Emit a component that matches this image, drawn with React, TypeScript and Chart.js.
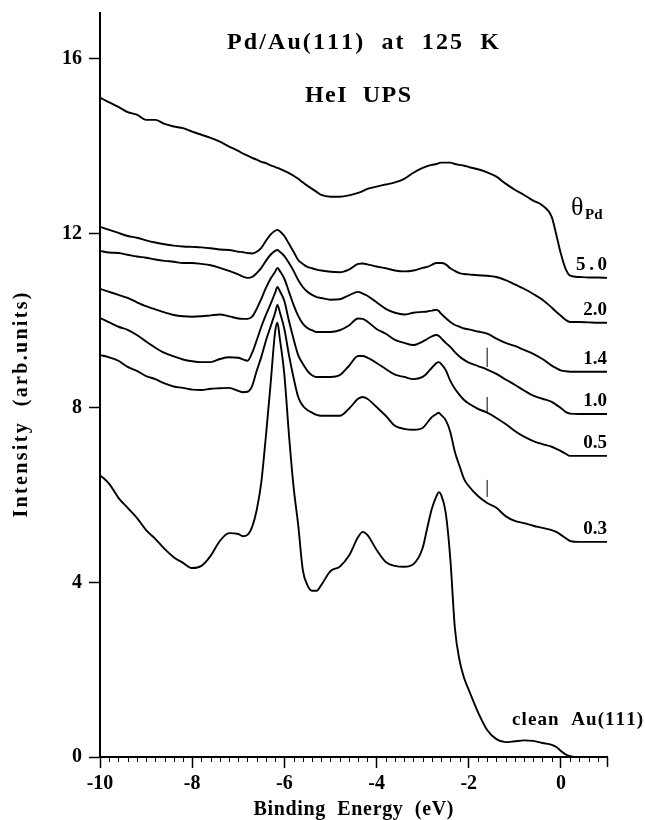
import React, { useEffect, useRef } from 'react';
import { Chart, registerables } from 'chart.js';

Chart.register(...registerables);

// Binding energy grid (eV)
const energies = [
  -10, -9.8, -9.6, -9.4, -9.2, -9, -8.8, -8.6, -8.4, -8.2, -8, -7.8, -7.6, -7.4, -7.2, -7,
  -6.9, -6.8, -6.7, -6.6, -6.5, -6.4, -6.3, -6.2, -6.15, -6.1, -6, -5.9, -5.8, -5.7, -5.6, -5.5, -5.4, -5.3, -5.2,
  -5, -4.8, -4.6, -4.4, -4.3, -4.2, -4, -3.8, -3.6, -3.4, -3.2, -3,
  -2.9, -2.8, -2.7, -2.65, -2.6, -2.5, -2.4, -2.3, -2.2, -2.1, -2,
  -1.8, -1.6, -1.4, -1.2, -1, -0.8, -0.6, -0.4, -0.2, -0.1, 0, 0.1, 0.2, 0.4, 0.6, 0.8, 1,
];

const cleanAu = [
  6.46, 6.26, 5.94, 5.71, 5.48, 5.2, 5.0, 4.77, 4.58, 4.45, 4.33, 4.38, 4.61, 4.95, 5.13, 5.11,
  5.06, 5.09, 5.27, 5.66, 6.3, 7.36, 8.53, 9.75, 9.95, 9.6, 8.76, 7.38, 6.19, 5.32, 4.29, 3.94, 3.81, 3.81, 3.94,
  4.26, 4.36, 4.61, 5.04, 5.16, 5.09, 4.75, 4.47, 4.38, 4.36, 4.42, 4.79,
  5.25, 5.69, 5.98, 6.07, 6.01, 5.6, 4.55, 2.95, 2.22, 1.81, 1.54,
  1.03, 0.62, 0.41, 0.34, 0.36, 0.38, 0.37, 0.32, 0.28, 0.23, 0.14, 0.06, 0.02, 0, 0, 0, 0,
];

const theta03 = [
  9.21, 9.16, 9.08, 8.94, 8.85, 8.73, 8.66, 8.56, 8.49, 8.46, 8.42, 8.41, 8.44, 8.45, 8.46, 8.39,
  8.36, 8.37, 8.5, 8.85, 9.17, 9.54, 9.86, 10.18, 10.36, 10.2, 9.81, 9.21, 8.69, 8.25, 8.05, 7.95, 7.89, 7.84, 7.82,
  7.82, 7.82, 7.98, 8.21, 8.25, 8.21, 8.02, 7.82, 7.59, 7.52, 7.5, 7.54,
  7.66, 7.79, 7.86, 7.89, 7.84, 7.72, 7.45, 6.99, 6.67, 6.37, 6.21,
  5.98, 5.82, 5.71, 5.52, 5.41, 5.36, 5.3, 5.25, 5.2, 5.16, 5.09, 5.02, 4.95, 4.93, 4.93, 4.93, 4.93,
];

const theta05 = [
  10.06, 9.96, 9.86, 9.79, 9.67, 9.52, 9.38, 9.26, 9.18, 9.11, 9.07, 9.05, 9.05, 9.12, 9.16, 9.15,
  9.11, 9.08, 9.26, 9.55, 9.86, 10.13, 10.38, 10.64, 10.77, 10.68, 10.45, 9.99, 9.58, 9.21, 9.01, 8.85, 8.75, 8.71, 8.71,
  8.71, 8.75, 8.96, 9.19, 9.19, 9.15, 9.03, 8.89, 8.76, 8.71, 8.66, 8.71,
  8.8, 8.92, 9.03, 9.05, 9.01, 8.87, 8.62, 8.44, 8.3, 8.18, 8.1,
  7.98, 7.89, 7.77, 7.63, 7.47, 7.34, 7.24, 7.17, 7.11, 7.06, 7.01, 6.95, 6.9, 6.9, 6.9, 6.9, 6.9,
];

const theta10 = [
  10.73, 10.66, 10.59, 10.52, 10.42, 10.33, 10.26, 10.19, 10.13, 10.1, 10.09, 10.1, 10.12, 10.14, 10.1, 10.05,
  10.04, 10.04, 10.09, 10.27, 10.5, 10.75, 10.96, 11.12, 11.21, 11.14, 10.96, 10.66, 10.36, 10.11, 9.93, 9.83, 9.78, 9.74, 9.74,
  9.74, 9.78, 9.89, 10.05, 10.04, 9.98, 9.81, 9.7, 9.56, 9.49, 9.44, 9.52,
  9.58, 9.64, 9.67, 9.65, 9.6, 9.49, 9.4, 9.28, 9.18, 9.1, 9.04,
  8.96, 8.88, 8.78, 8.65, 8.53, 8.4, 8.28, 8.21, 8.14, 8.07, 8.0, 7.91, 7.87, 7.86, 7.86, 7.86, 7.86,
];

const theta14 = [
  11.6, 11.56, 11.55, 11.51, 11.47, 11.44, 11.4, 11.37, 11.35, 11.32, 11.32, 11.3, 11.27, 11.21, 11.14, 11.06,
  11.01, 10.98, 11.0, 11.09, 11.21, 11.37, 11.51, 11.6, 11.62, 11.58, 11.48, 11.32, 11.14, 10.93, 10.77, 10.66, 10.59, 10.54, 10.52,
  10.48, 10.49, 10.58, 10.66, 10.62, 10.57, 10.42, 10.27, 10.18, 10.14, 10.18, 10.2,
  10.21, 10.23, 10.25, 10.22, 10.16, 10.06, 9.97, 9.9, 9.86, 9.82, 9.8,
  9.75, 9.7, 9.59, 9.49, 9.42, 9.33, 9.24, 9.12, 8.97, 8.91, 8.86, 8.84, 8.83, 8.83, 8.83, 8.83, 8.83,
];

const theta20 = [
  12.15, 12.08, 12.01, 11.94, 11.9, 11.84, 11.79, 11.75, 11.72, 11.7, 11.69, 11.68, 11.66, 11.63, 11.62, 11.58,
  11.57, 11.55, 11.54, 11.58, 11.67, 11.83, 11.97, 12.06, 12.08, 12.05, 11.94, 11.76, 11.58, 11.39, 11.3, 11.23, 11.2, 11.17, 11.15,
  11.12, 11.11, 11.17, 11.3, 11.31, 11.29, 11.24, 11.2, 11.15, 11.13, 11.15, 11.21,
  11.23, 11.28, 11.32, 11.32, 11.32, 11.29, 11.2, 11.14, 11.09, 11.07, 11.06,
  11.04, 11.03, 11.0, 10.93, 10.83, 10.73, 10.61, 10.48, 10.3, 10.2, 10.11, 10.02, 9.97, 9.97, 9.96, 9.95, 9.95,
];

const theta50 = [
  15.11, 15.0, 14.9, 14.78, 14.72, 14.6, 14.6, 14.51, 14.45, 14.41, 14.33, 14.26, 14.19, 14.1, 13.99, 13.89,
  13.83, 13.78, 13.73, 13.69, 13.64, 13.61, 13.56, 13.52, 13.5, 13.48, 13.43, 13.38, 13.32, 13.25, 13.17, 13.09, 13.02, 12.95, 12.88,
  12.84, 12.84, 12.87, 12.93, 12.97, 13.02, 13.07, 13.12, 13.17, 13.25, 13.39, 13.5,
  13.54, 13.57, 13.59, 13.61, 13.62, 13.62, 13.62, 13.59, 13.57, 13.55, 13.52,
  13.47, 13.4, 13.3, 13.14, 13.0, 12.88, 12.75, 12.64, 12.38, 11.97, 11.53, 11.19, 11.03, 11.0, 10.99, 10.99, 10.98,
];

const coverageSeries = [theta50, theta20, theta14, theta10, theta05, theta03];
const coverageLabels = ['5.0', '2.0', '1.4', '1.0', '0.5', '0.3'];

// short vertical markers at E = -1.6 eV
const markerEnergy = -1.6;
const markerRanges = [
  [8.94, 9.38],
  [7.91, 8.25],
  [5.96, 6.35],
];

const xMajorStep = 2;
const xMinorStep = 0.2;
const yStep = 4;

const SERIF = '"Liberation Serif", "Times New Roman", Times, serif';

function drawSpaced(ctx: CanvasRenderingContext2D, text: string, x: number, y: number, target: number, align: string) {
  const chars = Array.from(text);
  const widths = chars.map((c) => ctx.measureText(c).width);
  const natural = widths.reduce((a, b) => a + b, 0);
  const gap = chars.length > 1 ? Math.max(0, (target - natural) / (chars.length - 1)) : 0;
  const total = natural + gap * (chars.length - 1);
  let cx = align === 'center' ? x - total / 2 : align === 'right' ? x - total : x;
  ctx.textAlign = 'left';
  chars.forEach((c, i) => {
    ctx.fillText(c, cx, y);
    cx += widths[i] + gap;
  });
}

const annotations = {
  id: 'annotations',
  afterDraw(chart: any) {
    const { ctx, chartArea } = chart;
    const xs = chart.scales.x;
    const ys = chart.scales.y;
    ctx.save();
    ctx.fillStyle = '#000';
    ctx.strokeStyle = '#000';

    // minor ticks on x axis (plus the end tick at the axis maximum)
    const n = Math.round((xs.max - xs.min) / xMinorStep);
    for (let k = 0; k <= n; k++) {
      const v = xs.min + k * xMinorStep;
      const isEnd = Math.abs(v - xs.max) < 1e-6;
      const isMajor = Math.abs(v / xMajorStep - Math.round(v / xMajorStep)) < 1e-6;
      if (isMajor && !isEnd) continue;
      const px = Math.round(xs.getPixelForValue(v)) + 0.5;
      ctx.lineWidth = isEnd ? 1.5 : 1;
      ctx.beginPath();
      ctx.moveTo(px, chartArea.bottom);
      ctx.lineTo(px, chartArea.bottom + (isEnd ? 10 : 5));
      ctx.stroke();
    }

    ctx.textBaseline = 'alphabetic';

    // title lines
    ctx.font = `bold 24px ${SERIF}`;
    drawSpaced(ctx, 'Pd/Au(111)  at  125  K', 363, 49, 272, 'center');
    drawSpaced(ctx, 'HeI  UPS', 358, 102, 106, 'center');

    // theta_Pd
    ctx.font = `26px ${SERIF}`;
    ctx.textAlign = 'left';
    ctx.fillText('θ', 571, 215);
    ctx.font = `bold 15px ${SERIF}`;
    ctx.fillText('Pd', 585, 219);

    // coverage labels at the right end of each curve
    ctx.font = `bold 19px ${SERIF}`;
    coverageSeries.forEach((s, i) => {
      const yEnd = ys.getPixelForValue(s[s.length - 1]);
      const label = coverageLabels[i];
      const target = label === '5.0' ? 31 : 0;
      drawSpaced(ctx, label, chartArea.right, yEnd - 8, target, 'right');
    });
    drawSpaced(ctx, 'clean  Au(111)', xs.getPixelForValue(-1.06), ys.getPixelForValue(0.73), 131, 'left');

    // axis titles
    ctx.font = `bold 20px ${SERIF}`;
    drawSpaced(ctx, 'Binding  Energy  (eV)', (chartArea.left + chartArea.right) / 2, 815, 200, 'center');
    ctx.translate(27, 405);
    ctx.rotate(-Math.PI / 2);
    ctx.font = `bold 20px ${SERIF}`;
    drawSpaced(ctx, 'Intensity  (arb.units)', 0, 0, 225, 'center');
    ctx.restore();
  },
};

export default function App() {
  const canvasRef = useRef<HTMLCanvasElement | null>(null);

  useEffect(() => {
    const canvas = canvasRef.current;
    if (!canvas) return;

    const lineDs = (vals: number[]) => ({
      data: energies.map((e, i) => ({ x: e, y: vals[i] })),
      borderColor: '#000',
      borderWidth: 1.9,
      pointRadius: 0,
      fill: false,
      cubicInterpolationMode: 'monotone' as const,
    });

    const datasets: any[] = [cleanAu, ...coverageSeries].map(lineDs);
    markerRanges.forEach((r) => {
      datasets.push({
        data: [
          { x: markerEnergy, y: r[0] },
          { x: markerEnergy, y: r[1] },
        ],
        borderColor: '#000',
        borderWidth: 1,
        pointRadius: 0,
        fill: false,
      });
    });

    const tickFont = { family: SERIF, size: 20, weight: 'bold' as const };

    const chart = new Chart(canvas, {
      type: 'line',
      data: { datasets },
      options: {
        animation: false,
        responsive: false,
        layout: { padding: { left: 0, right: 38, top: 13, bottom: 0 } },
        plugins: { legend: { display: false }, tooltip: { enabled: false } },
        scales: {
          x: {
            type: 'linear',
            min: -10,
            max: 1,
            grid: {
              display: true,
              drawOnChartArea: false,
              drawTicks: true,
              tickLength: 11,
              tickWidth: 1.5,
              tickColor: '#000',
              color: '#000',
            },
            border: { display: true, color: '#000', width: 2 },
            ticks: {
              stepSize: xMajorStep,
              includeBounds: false,
              autoSkip: false,
              maxRotation: 0,
              color: '#000',
              padding: 4,
              font: tickFont,
              callback: (v: any) => (Number(v) === 0 ? '0' : String(v)),
            },
            afterFit: (scale: any) => {
              scale.height = 63;
            },
          },
          y: {
            type: 'linear',
            min: 0,
            max: 17.05,
            grid: {
              display: true,
              drawOnChartArea: false,
              drawTicks: true,
              tickLength: 11,
              tickWidth: 1.5,
              tickColor: '#000',
              color: '#000',
            },
            border: { display: true, color: '#000', width: 2 },
            ticks: {
              stepSize: yStep,
              includeBounds: false,
              color: '#000',
              padding: 7,
              font: tickFont,
            },
            afterFit: (scale: any) => {
              scale.width = 100;
              scale.paddingTop = 0;
              scale.paddingBottom = 0;
            },
          },
        },
      },
      plugins: [annotations],
    });

    return () => chart.destroy();
  }, []);

  return (
    <div style={{ position: 'absolute', left: 0, top: 0, width: 645, height: 820, background: '#fff' }}>
      <canvas ref={canvasRef} width={645} height={820} style={{ display: 'block' }} />
    </div>
  );
}
